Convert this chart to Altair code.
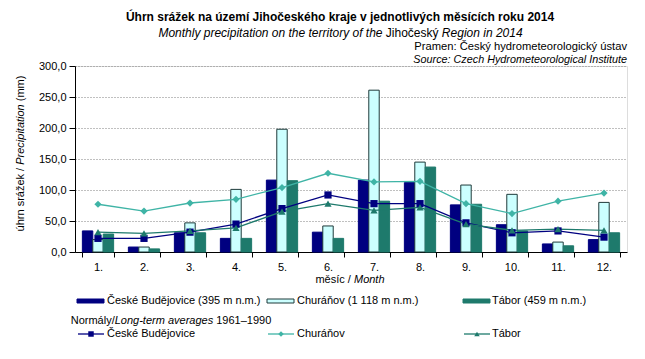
import altair as alt
import pandas as pd

# ---------------- data ----------------
months = ["1.", "2.", "3.", "4.", "5.", "6.", "7.", "8.", "9.", "10.", "11.", "12."]
stations = ["České Budějovice", "Churáňov", "Tábor"]
bar_labels = ["České Budějovice (395 m n.m.)", "Churáňov (1 118 m n.m.)", "Tábor (459 m n.m.)"]

cb_2014 = [34, 8, 31, 22, 116, 32, 116, 112, 76, 44, 13, 20]
ch_2014 = [20, 8, 47, 101, 198, 42, 261, 145, 108, 93, 16, 80]
ta_2014 = [29, 5, 31, 22, 115, 22, 82, 137, 77, 34, 10, 31]

cb_norm = [22, 22, 32, 45, 70, 92, 78, 78, 47, 31, 34, 24]
ch_norm = [77, 66, 79, 85, 104, 127, 113, 114, 78, 62, 82, 95]
ta_norm = [32, 30, 34, 39, 65, 78, 67, 72, 45, 35, 37, 35]

y_ticks = [0, 50, 100, 150, 200, 250, 300]

# ---------------- styles ----------------
FONT = "Liberation Sans"
bar_fill = ["#000080", "#CCFFFF", "#1E7A6C"]
bar_stroke = ["#000080", "#1E3A3A", "#1E7A6C"]
line_color = ["#000080", "#3FB4A6", "#1E7A6C"]
shapes = ["square", "diamond", "triangle-up"]

bars_rows = []
for st, vals in zip(stations, [cb_2014, ch_2014, ta_2014]):
    for m, v in zip(months, vals):
        bars_rows.append({"month": m, "station": st, "value": v})
bars_df = pd.DataFrame(bars_rows)

norm_rows = []
for st, vals in zip(stations, [cb_norm, ch_norm, ta_norm]):
    for m, v in zip(months, vals):
        norm_rows.append({"month": m, "station": st, "value": v})
norm_df = pd.DataFrame(norm_rows)

# page coordinates of the plot-area origin
X0, Y0 = 75, 66
W_PLOT, H_PLOT = 552, 186

# Arial / Liberation Sans advance widths (per 1000 em)
AW = {' ': 278, '(': 333, ')': 333, ',': 278, '-': 333, '.': 278, '/': 278, ':': 278, '–': 556}
for d in "0123456789":
    AW[d] = 556
AW.update(dict(A=667, B=667, C=722, D=722, E=667, F=611, G=778, H=722, I=278, J=500, K=667, L=556,
               M=833, N=722, O=778, P=667, Q=778, R=722, S=667, T=611, U=722, V=667, W=944, X=667,
               Y=667, Z=611))
AW.update(dict(a=556, b=556, c=500, d=556, e=556, f=278, g=556, h=556, i=222, j=222, k=500, l=222,
               m=833, n=556, o=556, p=556, q=556, r=333, s=500, t=278, u=556, v=500, w=722, x=500,
               y=500, z=500))
AW.update({'á': 556, 'é': 556, 'í': 278, 'ý': 500, 'ě': 556, 'č': 500, 'ž': 500, 'ú': 556,
           'ň': 556, 'Č': 722, 'Ú': 722, 'ů': 556})


def tw(s, size=11):
    return sum(AW.get(c, 556) for c in s) * size / 1000.0


def txt(text, x, y, size=11, align="left", style="normal", weight="normal", angle=0):
    kw = dict(font=FONT, fontSize=size, align=align, baseline="middle", fontStyle=style,
              fontWeight=weight, color="black")
    if angle:
        kw["angle"] = angle
    return alt.Chart(pd.DataFrame({"t": [text]})).mark_text(**kw).encode(
        text="t:N", x=alt.value(x - X0), y=alt.value(y - Y0))


def segments(parts, x_start, y, size=11):
    """parts: list of (text, style, gap_after); laid out left to right."""
    out = []
    x = x_start
    for t, st, gap in parts:
        out.append(txt(t, x, y, size=size, style=st))
        x += tw(t, size) + (tw(" ", size) if gap else 0)
    return out


def seg_width(parts, size=11):
    return sum(tw(t, size) + (tw(" ", size) if g else 0) for t, _, g in parts)


# ---------------- main chart ----------------
x_enc = alt.X("month:N", sort=months,
              scale=alt.Scale(paddingInner=0.32, paddingOuter=0.16),
              axis=alt.Axis(title=None, labelAngle=0, tickBand="extent", tickSize=5,
                            labelPadding=4, domainColor="black", tickColor="black",
                            labelFontSize=11, labelColor="black", labelFont=FONT, grid=False))
y_enc = alt.Y("value:Q", scale=alt.Scale(domain=[0, 300], nice=False),
              axis=alt.Axis(title=None, values=y_ticks, grid=True, gridDash=[1, 2],
                            gridColor="#808080", gridWidth=1, tickSize=6, labelPadding=3,
                            domainColor="black", tickColor="black", labelFontSize=11,
                            labelColor="black", labelFont=FONT,
                            labelExpr="replace(format(datum.value, '.1f'), '.', ',')"))

bars = alt.Chart(bars_df).mark_bar(strokeWidth=1).encode(
    x=x_enc,
    xOffset=alt.XOffset("station:N", sort=stations,
                        scale=alt.Scale(domain=stations, paddingInner=0, paddingOuter=0)),
    y=y_enc,
    fill=alt.Fill("station:N", scale=alt.Scale(domain=stations, range=bar_fill), legend=None),
    stroke=alt.Stroke("station:N", scale=alt.Scale(domain=stations, range=bar_stroke), legend=None),
)

lines = alt.Chart(norm_df).mark_line(strokeWidth=1.3).encode(
    x=x_enc, y=y_enc,
    color=alt.Color("station:N", scale=alt.Scale(domain=stations, range=line_color), legend=None),
    detail="station:N",
)

points = alt.Chart(norm_df).mark_point(filled=True, opacity=1, size=52).encode(
    x=x_enc, y=y_enc,
    color=alt.Color("station:N", scale=alt.Scale(domain=stations, range=line_color), legend=None),
    shape=alt.Shape("station:N", scale=alt.Scale(domain=stations, range=shapes), legend=None),
)

layers = [bars, lines, points]

# ---------------- titles ----------------
layers.append(txt("Úhrn srážek na území Jihočeského kraje v jednotlivých měsících roku 2014",
                  340, 17, size=12, align="center", weight="bold"))

sub_parts = [("Monthly precipitation on the territory of the", "italic", True),
             ("Jihočeský", "normal", True),
             ("Region in 2014", "italic", False)]
layers += segments(sub_parts, 340.5 - seg_width(sub_parts, 12) / 2, 33, size=12)

layers.append(txt("Pramen: Český hydrometeorologický ústav", 627, 47, size=11.2, align="right"))
layers.append(txt("Source: Czech Hydrometeorological Institute", 627, 60, size=10.8, align="right",
                  style="italic"))

# y-axis title (rotated, read bottom -> top)
ytitle = [("úhrn srážek /", "normal", True), ("Precipitation", "italic", True), ("(mm)", "normal", False)]
yy = 153.5 + seg_width(ytitle) / 2
for t, st, g in ytitle:
    layers.append(txt(t, 21, yy, style=st, angle=270))
    yy -= tw(t) + (tw(" ") if g else 0)

# x-axis title
xt = [("měsíc /", "normal", True), ("Month", "italic", False)]
layers += segments(xt, 350 - seg_width(xt) / 2, 280)

# ---------------- legend ----------------
leg_sw_x = [77, 267, 463]
leg_txt_x = [107, 297, 492]
row1_y, row2_y, row3_y = 301, 321, 334

for i in range(3):
    sw = alt.Chart(pd.DataFrame({"s": [stations[i]]})).mark_rect(
        fill=bar_fill[i], stroke=bar_stroke[i], strokeWidth=1).encode(
        x=alt.value(leg_sw_x[i] - X0), x2=alt.value(leg_sw_x[i] + 27 - X0),
        y=alt.value(row1_y - 2 - Y0), y2=alt.value(row1_y + 2 - Y0))
    layers.append(sw)
    layers.append(txt(bar_labels[i], leg_txt_x[i], row1_y))

layers += segments([("Normály/", "normal", False), ("Long-term averages", "italic", True),
                    ("1961–1990", "normal", False)], 70.7, row2_y)

for i in range(3):
    ln = alt.Chart(pd.DataFrame({"s": [stations[i]]})).mark_rule(
        color=line_color[i], strokeWidth=1.3).encode(
        x=alt.value(leg_sw_x[i] + 1 - X0), x2=alt.value(leg_sw_x[i] + 27 - X0),
        y=alt.value(row3_y - Y0))
    pt = alt.Chart(pd.DataFrame({"s": [stations[i]]})).mark_point(
        shape=shapes[i], filled=True, opacity=1, size=30, color=line_color[i]).encode(
        x=alt.value(leg_sw_x[i] + 14 - X0), y=alt.value(row3_y - Y0))
    layers += [ln, pt]
    layers.append(txt(stations[i], leg_txt_x[i], row3_y))

chart = alt.layer(*layers).properties(
    width=W_PLOT, height=H_PLOT,
    padding={"left": X0 - 8, "top": Y0 - 8, "right": 10, "bottom": 99},
    autosize=alt.AutoSizeParams(type="none"),
    background="white",
).configure_view(stroke="#404040", strokeWidth=1).configure(font=FONT)

chart.save("out.html", embed_options={"renderer": "svg", "actions": False})
